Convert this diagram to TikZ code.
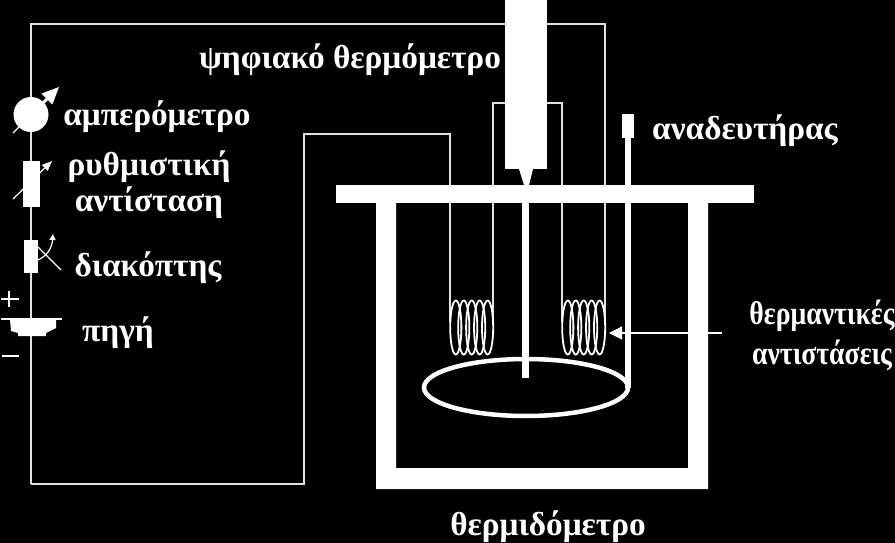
\documentclass[tikz,border=0pt]{standalone}
\usepackage{fontspec}
\setmainfont{Liberation Serif}
\newfontfamily\narrowserif[FakeStretch=0.84]{Liberation Serif}
\usetikzlibrary{arrows.meta}
\tikzset{
  wire/.style={draw=white!88!black,line width=1.4pt},
  solid part/.style={fill=white,draw=none},
  coilloop/.style={draw=white,line width=1.8pt},
  label/.style={text=white,font=\fontsize{33.3}{36}\selectfont\bfseries,inner sep=0pt,anchor=center},
  small label/.style={label,font=\narrowserif\fontsize{33}{36}\selectfont\bfseries},
  thin arrow/.style={draw=white,line width=1.2pt},
}
\begin{document}
\begin{tikzpicture}[x=1pt,y=-1pt]
\useasboundingbox[fill=black] (0,0) rectangle (895,543);
% named points of the circuit
\coordinate (tl) at (31,24);
\coordinate (tr) at (605,24);
\coordinate (bl) at (31,484);
\coordinate (br) at (304,484);
\coordinate (mr) at (304,134);
\coordinate (ma) at (450,134);
\coordinate (c1a) at (450,322);
\coordinate (c1b) at (493,322);
\coordinate (t1) at (493,103);
\coordinate (t2) at (562,103);
\coordinate (c2a) at (562,322);
\coordinate (c2b) at (605,322);
% wires
\draw[wire] (bl) -- (tl) -- (tr) -- (c2b);
\draw[wire] (bl) -- (br) -- (mr) -- (ma) -- (c1a);
\draw[wire] (c1b) -- (t1) -- (t2) -- (c2a);
% coils
\foreach \i in {0,...,4}{
  \draw[coilloop] ({455.8+7.95*\i},327.5) ellipse (5.6 and 27);
  \draw[coilloop] ({567.8+7.95*\i},327.5) ellipse (5.6 and 27);
}
% calorimeter
\fill[solid part] (376,203) -- (396,203) -- (396,468) -- (688,468) -- (688,203) -- (708,203) -- (708,489) -- (376,489) -- cycle;
% lid
\fill[solid part] (336,185) rectangle (754,203);
% thermometer
\fill[solid part] (505,0) rectangle (547,169);
\fill[solid part] (519,169) -- (533,169) -- (529,185) -- (524,185) -- cycle;
\fill[solid part] (522,203) rectangle (529,378);
% stirrer
\fill[solid part] (622,114) rectangle (634,138);
\fill[solid part] (625,138) rectangle (631,388);
\draw[draw=white,line width=4.5pt] (526,387.5) ellipse (102 and 28.5);
% heater pointer
\coordinate (ptip) at (609,333);
\coordinate (pend) at (722,333);
\draw[thin arrow,-{Triangle[length=13pt,width=13pt]}] (pend) -- (ptip);
% ammeter
\fill[solid part] (31,114.5) circle (17.5);
\coordinate (a1) at (13,133);
\coordinate (a2) at (59,87);
\coordinate (a3) at (48,98);
\draw[thin arrow,-{Triangle[length=17pt,width=15pt]}] (a1) -- (a2);
\draw[draw=white,line width=3pt] (31,114.5) -- (a3);
% rheostat
\fill[solid part] (23,161) rectangle (40,207);
\coordinate (r1) at (13,199);
\coordinate (r2) at (52,161);
\draw[thin arrow,-{Triangle[length=10pt,width=8pt]}] (r1) -- (r2);
% switch
\fill[solid part] (24,240) rectangle (38,273);
\coordinate (s1) at (38,247);
\coordinate (s2) at (61,270);
\draw[thin arrow] (s1) -- (s2);
\coordinate (s3) at (38,260);
\coordinate (s4) at (53,234);
\draw[thin arrow,-{Triangle[length=6pt,width=6pt]}] (s3) .. controls (47,256) and (52,248) .. (s4);
% battery
\coordinate (b1) at (1,319);
\coordinate (b2) at (62,319);
\draw[thin arrow] (b1) -- (b2);
\fill[solid part] (10,319) -- (56,319) -- (56,328) -- (46,333) -- (46,336) -- (18,336) -- (18,333) -- (11,331) -- cycle;
% plus and minus
\coordinate (p1) at (1,299);
\coordinate (p2) at (19,299);
\coordinate (p3) at (9,291);
\coordinate (p4) at (9,307);
\draw[draw=white,line width=2.4pt] (p1) -- (p2) (p3) -- (p4);
\coordinate (m1) at (2,356);
\coordinate (m2) at (19,356);
\draw[draw=white,line width=2.8pt] (m1) -- (m2);
% labels
\node[label] (therm) at (350,60) {ψηφιακό θερμόμετρο};
\node[label] (amp) at (157,117) {αμπερόμετρο};
\node[label] (rhe1) at (149,167) {ρυθμιστική};
\node[label] (rhe2) at (149,203) {αντίσταση};
\node[label] (sw) at (148,268) {διακόπτης};
\node[label] (src) at (118,333) {πηγή};
\node[label] (stir) at (745,131) {αναδευτήρας};
\node[small label] (heat1) at (822,316) {θερμαντικές};
\node[small label] (heat2) at (822,355) {αντιστάσεις};
\node[label] (cal) at (548,527) {θερμιδόμετρο};
\end{tikzpicture}
\end{document}
